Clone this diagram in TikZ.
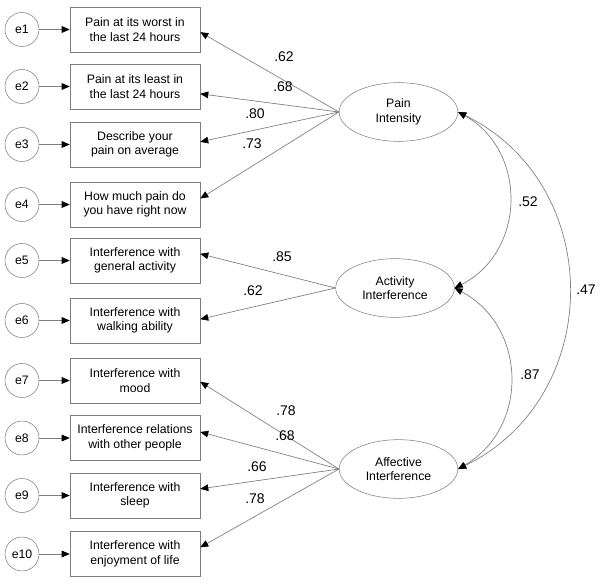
\documentclass[tikz,border=0pt]{standalone}
\usepackage{fontspec}
\setmainfont{Liberation Sans}
\usetikzlibrary{shapes.geometric,arrows.meta}

\definecolor{semline}{RGB}{125,125,125}
\newcommand{\boxfont}{\fontsize{9.2}{10.8}\selectfont}

\tikzset{
  obsbox/.style={draw=semline, rectangle, minimum width=97.5pt, minimum height=33.75pt,
    inner sep=1pt, align=center, font=\boxfont},
  errnode/.style={draw=semline, circle, minimum size=25.5pt, inner sep=0pt, font=\boxfont},
  latnode/.style={draw=semline, ellipse, minimum width=89pt, minimum height=44pt,
    inner sep=0pt, align=center, font=\boxfont},
  loadarrow/.style={draw=semline, line width=0.5pt, -{Triangle[length=6pt,width=5pt,fill=black,color=black]}},
  corrarrow/.style={draw=semline, line width=0.5pt,
    {Triangle[length=6pt,width=5pt,fill=black,color=black]}-{Triangle[length=6pt,width=5pt,fill=black,color=black]}},
  coef/.style={font=\fontsize{10.5}{12}\selectfont, inner sep=0pt}
}

\begin{document}
\begin{tikzpicture}[x=0.75pt,y=-0.75pt]
    \useasboundingbox (0,0) rectangle (600,584);

    % Observed indicators
    \node[obsbox] (b1) at (135,29.5) {Pain at its worst in\\the last 24 hours};
    \node[obsbox] (b2) at (135,86.5) {Pain at its least in\\the last 24 hours};
    \node[obsbox] (b3) at (135,144.5) {Describe your\\pain on average};
    \node[obsbox] (b4) at (135,204.5) {How much pain do\\you have right now};
    \node[obsbox] (b5) at (135,260.5) {Interference with\\general activity};
    \node[obsbox] (b6) at (135,320.5) {Interference with\\walking ability};
    \node[obsbox] (b7) at (135,380.5) {Interference with\\mood};
    \node[obsbox] (b8) at (135,438) {Interference relations\\with other people};
    \node[obsbox] (b9) at (135,495.5) {Interference with\\sleep};
    \node[obsbox] (b10) at (135,554) {Interference with\\enjoyment of life};

    % Error terms
    \node[errnode] (e1) at (22,29.5) {e1};
    \node[errnode] (e2) at (22,86.5) {e2};
    \node[errnode] (e3) at (22,144.5) {e3};
    \node[errnode] (e4) at (22,204.5) {e4};
    \node[errnode] (e5) at (22,260.5) {e5};
    \node[errnode] (e6) at (22,320.5) {e6};
    \node[errnode] (e7) at (22,380.5) {e7};
    \node[errnode] (e8) at (22,438) {e8};
    \node[errnode] (e9) at (22,495.5) {e9};
    \node[errnode] (e10) at (22,554) {e10};

    \draw[loadarrow] (e1) -- (b1);
    \draw[loadarrow] (e2) -- (b2);
    \draw[loadarrow] (e3) -- (b3);
    \draw[loadarrow] (e4) -- (b4);
    \draw[loadarrow] (e5) -- (b5);
    \draw[loadarrow] (e6) -- (b6);
    \draw[loadarrow] (e7) -- (b7);
    \draw[loadarrow] (e8) -- (b8);
    \draw[loadarrow] (e9) -- (b9);
    \draw[loadarrow] (e10) -- (b10);

    % Latent factors
    \node[latnode] (pain) at (398.5,112) {Pain\\Intensity};
    \node[latnode] (act) at (395,288) {Activity\\Interference};
    \node[latnode] (aff) at (398.5,469) {Affective\\Interference};

    % Loadings
    \draw[loadarrow] (pain.west) -- ([yshift=-2pt]b1.east);
    \draw[loadarrow] (pain.west) -- ([yshift=-5.5pt]b2.east);
    \draw[loadarrow] (pain.west) -- ([yshift=2pt]b3.east);
    \draw[loadarrow] (pain.west) -- ([yshift=4.5pt]b4.east);
    \draw[loadarrow] (act.west) -- ([yshift=5pt]b5.east);
    \draw[loadarrow] (act.west) -- ([yshift=1pt]b6.east);
    \draw[loadarrow] (aff.west) -- ([yshift=-1pt]b7.east);
    \draw[loadarrow] (aff.west) -- ([yshift=4.5pt]b8.east);
    \draw[loadarrow] (aff.west) -- ([yshift=5pt]b9.east);
    \draw[loadarrow] (aff.west) -- ([yshift=5pt]b10.east);

    \node[coef] (l1) at (284,57) {.62};
    \node[coef] (l2) at (283,87) {.68};
    \node[coef] (l3) at (255,114) {.80};
    \node[coef] (l4) at (252,144) {.73};
    \node[coef] (l5) at (282,257) {.85};
    \node[coef] (l6) at (253,291) {.62};
    \node[coef] (l7) at (286,411) {.78};
    \node[coef] (l8) at (285,436) {.68};
    \node[coef] (l9) at (257,467) {.66};
    \node[coef] (l10) at (255,499) {.78};

    % Correlations
    \draw[corrarrow] (pain.east) to[bend left=62, looseness=1.16] (act.east);
    \draw[corrarrow] (act.east) to[bend left=61, looseness=1.16] (aff.east);
    \draw[corrarrow] (pain.east) to[bend left=64, looseness=1.18] (aff.east);

    \node[coef] (r1) at (528,202) {.52};
    \node[coef] (r2) at (586,290) {.47};
    \node[coef] (r3) at (530,375) {.87};

\end{tikzpicture}
\end{document}
